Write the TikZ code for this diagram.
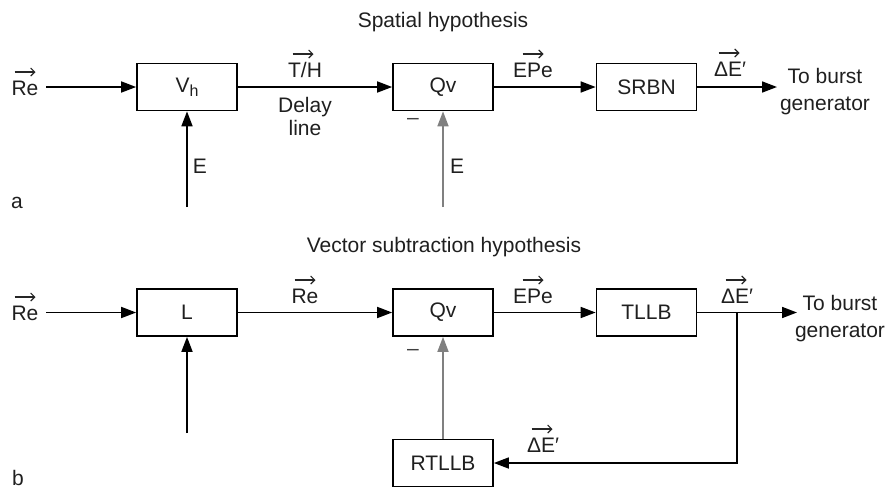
\documentclass[tikz,border=0pt]{standalone}
\usepackage{fontspec}
\setmainfont{Liberation Sans}
\usetikzlibrary{arrows.meta}
\newcommand{\vecover}[2][0]{\draw[vecarr] ([xshift=#1pt-10.5pt,yshift=23pt]#2.base) -- ([xshift=#1pt+10.5pt,yshift=23pt]#2.base);}
\begin{document}
\begin{tikzpicture}[x=1pt,y=-1pt,
  every node/.style={font=\fontsize{21}{24}\selectfont, text=black!88},
  blk/.style={draw, line width=1.7pt, minimum width=100pt, minimum height=47pt, inner sep=0pt},
  lbl/.style={anchor=base, inner sep=0pt},
  arr/.style={line width=1.7pt, -{Triangle[length=15pt,width=11pt]}},
  garr/.style={arr, draw=black!50},
  vecarr/.style={line width=1.1pt, draw=black!85, -{Straight Barb[length=4pt,width=8pt]}}
]
\useasboundingbox (0,0) rectangle (889,488);

% titles
\node[lbl] (t1) at (443,27) {Spatial hypothesis};
\node[lbl] (t2) at (444,252) {Vector subtraction hypothesis};
\node[lbl] (la) at (17,208) {a};
\node[lbl] (lb) at (18,485) {b};

% ---- top (a) ----
\node[blk] (vh) at (187,87) {V\raisebox{-0.35ex}{\fontsize{16}{16}\selectfont h}};
\node[blk] (qv) at (443,87) {Qv};
\node[blk] (srbn) at (646.5,87) {SRBN};
\node[lbl] (re1) at (25,95) {Re};
\coordinate (re1s) at (46,87);
\coordinate (out1) at (777,87);
\coordinate (e1s) at (187,207);
\coordinate (e2s) at (443,207);

\draw[arr] (re1s) -- (vh.west);
\draw[arr] (vh.east) -- (qv.west);
\draw[arr] (qv.east) -- (srbn.west);
\draw[arr] (srbn.east) -- (out1);
\draw[arr] (e1s) -- (vh.south);
\draw[garr] (e2s) -- (qv.south);

\node[lbl] (th) at (305,77) {T/H};
\node[lbl] (dl1) at (305,112) {Delay};
\node[lbl] (dl2) at (305,135) {line};
\node[lbl] (epe1) at (533,77) {EPe};
\node[lbl] (de1) at (730,76) {ΔE′};
\node[lbl] (tb1) at (825,83) {To burst};
\node[lbl] (tg1) at (825,110) {generator};
\node[lbl] (el1) at (200,173) {E};
\node[lbl] (el2) at (457,173) {E};
\node[inner sep=0pt, text=black!75] (m1) at (413,121) {–};
\vecover{re1}
\vecover[-2]{th}
\vecover{epe1}
\vecover[-1]{de1}

% ---- bottom (b) ----
\node[blk] (l) at (187,312.5) {L};
\node[blk] (qv2) at (443,312.5) {Qv};
\node[blk] (tllb) at (646.5,312.5) {TLLB};
\node[blk] (rtllb) at (443,463) {RTLLB};
\node[lbl] (re2) at (25,320) {Re};
\coordinate (re2s) at (46,312.5);
\coordinate (out2) at (797,312.5);
\coordinate (br) at (737,312.5);
\coordinate (e3s) at (187,433);

\draw[arr] (re2s) -- (l.west);
\draw[arr] (l.east) -- (qv2.west);
\draw[arr] (qv2.east) -- (tllb.west);
\draw[arr] (tllb.east) -- (out2);
\draw[arr] (e3s) -- (l.south);
\draw[arr] (br) |- (rtllb.east);
\draw[garr] (rtllb.north) -- (qv2.south);

\node[lbl] (re3) at (305,303) {Re};
\node[lbl] (epe2) at (533,303) {EPe};
\node[lbl] (de2) at (737,303) {ΔE′};
\node[lbl] (de3) at (543,452) {ΔE′};
\node[lbl] (tb2) at (840,310) {To burst};
\node[lbl] (tg2) at (840,337) {generator};
\node[inner sep=0pt, text=black!75] (m2) at (413,352) {–};
\vecover{re2}
\vecover{re3}
\vecover{epe2}
\vecover[-1]{de2}
\vecover[-1]{de3}
\end{tikzpicture}
\end{document}
